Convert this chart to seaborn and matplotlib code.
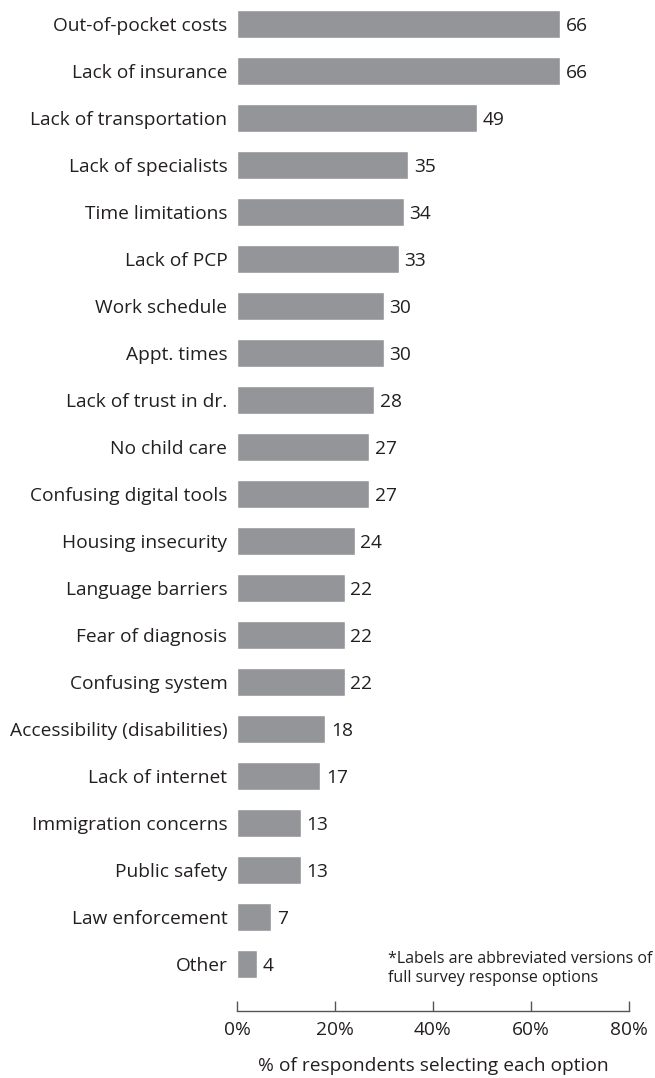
import matplotlib
matplotlib.use("Agg")
import matplotlib.pyplot as plt
import matplotlib.ticker as mticker
import seaborn as sns
import pandas as pd

barriers = [
    "Out-of-pocket costs", "Lack of insurance", "Lack of transportation",
    "Lack of specialists", "Time limitations", "Lack of PCP", "Work schedule",
    "Appt. times", "Lack of trust in dr.", "No child care",
    "Confusing digital tools", "Housing insecurity", "Language barriers",
    "Fear of diagnosis", "Confusing system", "Accessibility (disabilities)",
    "Lack of internet", "Immigration concerns", "Public safety",
    "Law enforcement", "Other",
]
percent = [66, 66, 49, 35, 34, 33, 30, 30, 28, 27, 27, 24, 22, 22, 22, 18,
           17, 13, 13, 7, 4]
x_ticks = [0, 20, 40, 60, 80]

df = pd.DataFrame({"barrier": barriers, "percent": percent})

sns.set_style("white")
plt.rcParams["font.family"] = ["Open Sans", "DejaVu Sans"]
text_color = "#231f20"
bar_color = "#939598"
fs = 13.8

fig = plt.figure(figsize=(6.55, 10.78), dpi=100)
ax = fig.add_axes([0.3618, 0.0622, 0.5985, 0.9373])

sns.barplot(data=df, x="percent", y="barrier", orient="h", color=bar_color,
            width=0.58, saturation=1, ax=ax)

# value labels just past the end of each bar
for i, v in enumerate(percent):
    ax.annotate(str(v), xy=(v, i), xytext=(4, 0), textcoords="offset points",
                ha="left", va="center_baseline", fontsize=fs, color=text_color)

ax.set_xlim(0, 80)
ax.set_ylim(21.0, -0.5)
ax.set_xticks(x_ticks)
ax.xaxis.set_major_formatter(mticker.FuncFormatter(lambda v, p: f"{v:.0f}%"))

for side in ["top", "right", "left"]:
    ax.spines[side].set_visible(False)
ax.spines["bottom"].set_color("#555555")
ax.spines["bottom"].set_linewidth(1.0)

ax.tick_params(axis="x", direction="in", length=7.2, width=1.0, color="#555555",
               labelsize=fs, labelcolor=text_color, pad=7, bottom=True)
ax.tick_params(axis="y", length=0, labelsize=fs, labelcolor=text_color, pad=7)

ax.set_ylabel("")
ax.set_xlabel("% of respondents selecting each option", fontsize=fs,
              color=text_color, labelpad=13)

ax.text(30.8, 20.1, "*Labels are abbreviated versions of\nfull survey response options",
        fontsize=11.5, color=text_color, va="center", ha="left", linespacing=1.3)

fig.savefig("out.png", dpi=100)
